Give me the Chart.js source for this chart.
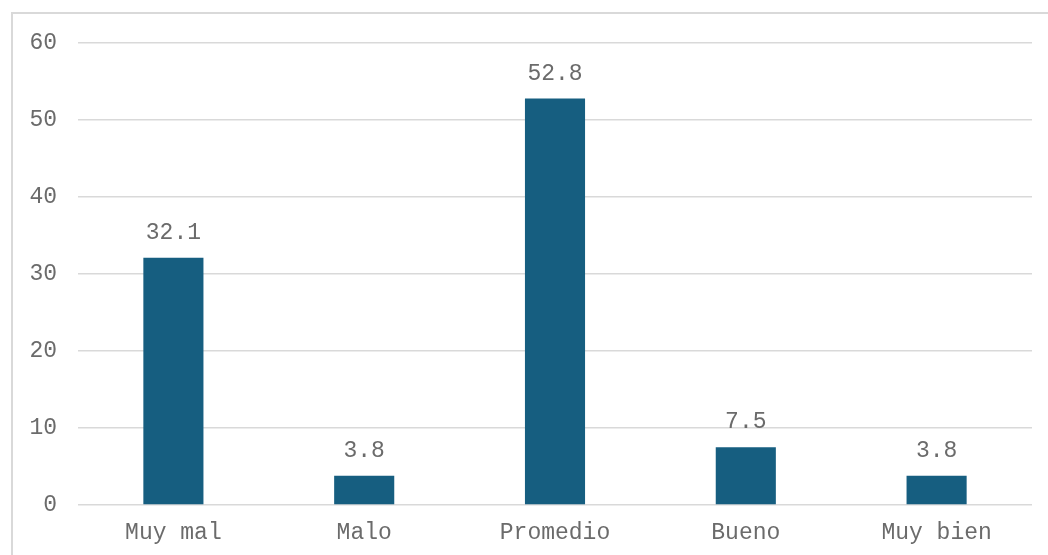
<!DOCTYPE html>
<html lang="es">
<head>
    <meta charset="UTF-8">
    <title>Valoración</title>
    <script src="https://cdn.jsdelivr.net/npm/chart.js"></script>
    <style>
        html, body { margin: 0; padding: 0; background: #fff; overflow: hidden; }
        .chart-wrap { position: relative; width: 1048px; height: 555px; }
        .chart-frame { position: absolute; left: 11px; top: 12px; width: 1100px; height: 600px; border: 2px solid #d9d9d9; pointer-events: none; }
        canvas { position: absolute; left: 0; top: 0; }
    </style>
</head>
<body>
    <div class="chart-wrap">
        <canvas id="barChart" width="1048" height="555"></canvas>
        <div class="chart-frame"></div>
    </div>
    <script>
        const categories = ['Muy mal', 'Malo', 'Promedio', 'Bueno', 'Muy bien'];
        const valores = [32.1, 3.8, 52.8, 7.5, 3.8];
        const yTicks = [0, 10, 20, 30, 40, 50, 60];

        const FONT = "'Courier New', 'Liberation Mono', monospace";
        const TEXT_COLOR = '#6b6b6b';

        // etiquetas de valor encima de cada barra
        const valueLabels = {
            id: 'valueLabels',
            afterDatasetsDraw(chart) {
                const ctx = chart.ctx;
                const meta = chart.getDatasetMeta(0);
                ctx.save();
                ctx.font = '23px ' + FONT;
                ctx.fillStyle = TEXT_COLOR;
                ctx.textAlign = 'center';
                ctx.textBaseline = 'middle';
                meta.data.forEach((bar, i) => {
                    ctx.fillText(valores[i].toFixed(1), bar.x, bar.y - 25);
                });
                ctx.restore();
            }
        };

        new Chart(document.getElementById('barChart'), {
            type: 'bar',
            data: {
                labels: categories,
                datasets: [{
                    data: valores,
                    backgroundColor: '#165E80',
                    barPercentage: 0.315,
                    categoryPercentage: 1
                }]
            },
            options: {
                responsive: false,
                animation: false,
                layout: { padding: { top: 43, right: 16, left: 0, bottom: 0 } },
                plugins: { legend: { display: false }, tooltip: { enabled: false } },
                scales: {
                    x: {
                        grid: { display: false, drawTicks: false },
                        border: { display: false },
                        ticks: { color: TEXT_COLOR, font: { family: FONT, size: 23 }, padding: 14 },
                        afterFit(scale) { scale.height = 50; }
                    },
                    y: {
                        min: 0,
                        max: 60,
                        afterBuildTicks(scale) { scale.ticks = yTicks.map(v => ({ value: v })); },
                        grid: { color: '#d9d9d9', lineWidth: 1.5, drawTicks: false },
                        border: { display: false },
                        ticks: { color: TEXT_COLOR, font: { family: FONT, size: 23 }, padding: 21 },
                        afterFit(scale) { scale.width = 78; }
                    }
                }
            },
            plugins: [valueLabels]
        });
    </script>
</body>
</html>
